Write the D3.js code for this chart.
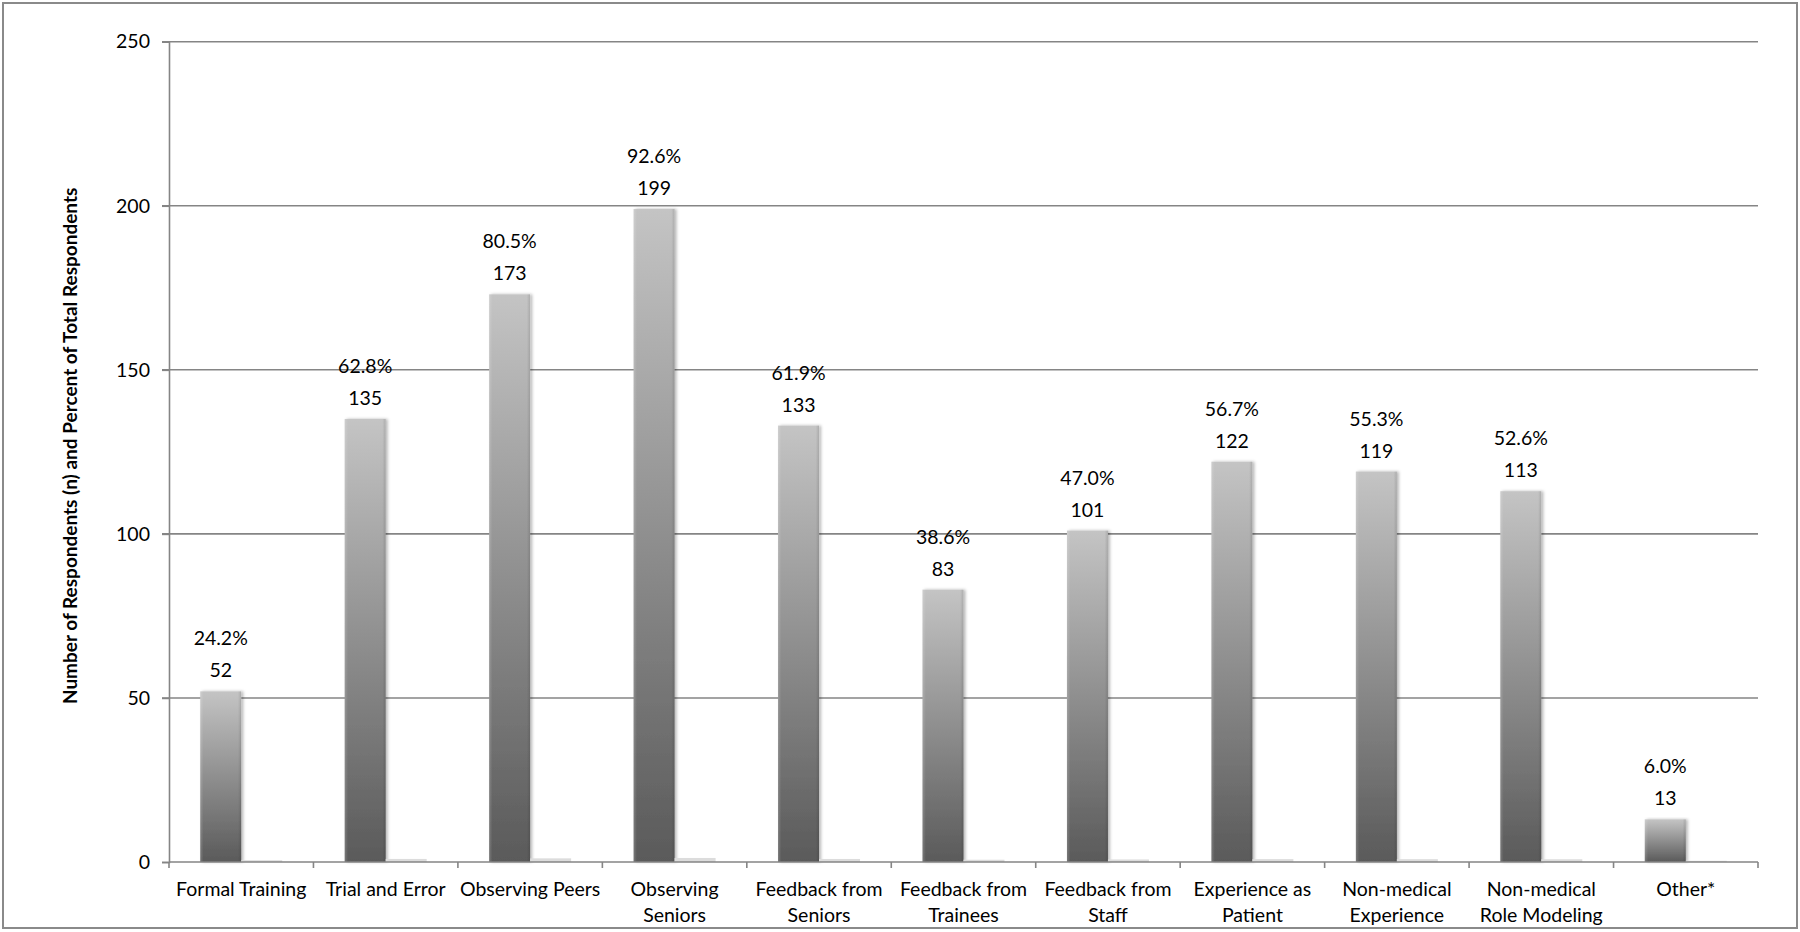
<!DOCTYPE html>
<html>
<head>
<meta charset="utf-8">
<script src="https://cdn.jsdelivr.net/npm/d3@7"></script>
<style>
  html, body { margin: 0; padding: 0; background: #fff; }
  svg { display: block; }
  text { font-family: Lato, "Noto Sans", sans-serif; fill: #000; }
</style>
</head>
<body>
<svg id="chart" width="1800" height="932"></svg>
<script>
// ---- data ----
const categories = [
  ["Formal Training"],
  ["Trial and Error"],
  ["Observing Peers"],
  ["Observing", "Seniors"],
  ["Feedback from", "Seniors"],
  ["Feedback from", "Trainees"],
  ["Feedback from", "Staff"],
  ["Experience as", "Patient"],
  ["Non-medical", "Experience"],
  ["Non-medical", "Role Modeling"],
  ["Other*"]
];
const counts = [52, 135, 173, 199, 133, 83, 101, 122, 119, 113, 13];
const percents = [24.2, 62.8, 80.5, 92.6, 61.9, 38.6, 47.0, 56.7, 55.3, 52.6, 6.0];
const yTicks = [0, 50, 100, 150, 200, 250];
const yTitle = "Number of Respondents (n) and Percent of Total Respondents";

// ---- layout ----
const W = 1800, H = 932;
const mLeft = 169, mRight = 1758, mTop = 41.7, mBottom = 862;
const FS = 19.5;
const svg = d3.select("#chart");

svg.append("rect").attr("x", 3).attr("y", 3).attr("width", W - 6).attr("height", H - 7)
  .attr("fill", "#fff").attr("stroke", "#8a8a8a").attr("stroke-width", 2);

const defs = svg.append("defs");
const grad = defs.append("linearGradient").attr("id", "barGrad")
  .attr("x1", 0).attr("y1", 0).attr("x2", 0).attr("y2", 1);
grad.append("stop").attr("offset", "0%").attr("stop-color", "#c4c4c4");
grad.append("stop").attr("offset", "100%").attr("stop-color", "#5a5a5a");
const hgrad = defs.append("linearGradient").attr("id", "edgeGrad")
  .attr("x1", 0).attr("y1", 0).attr("x2", 1).attr("y2", 0);
hgrad.append("stop").attr("offset", "0%").attr("stop-color", "#fff").attr("stop-opacity", 0.18);
hgrad.append("stop").attr("offset", "8%").attr("stop-color", "#fff").attr("stop-opacity", 0);
hgrad.append("stop").attr("offset", "92%").attr("stop-color", "#000").attr("stop-opacity", 0);
hgrad.append("stop").attr("offset", "100%").attr("stop-color", "#000").attr("stop-opacity", 0.12);
const shadow = defs.append("filter").attr("id", "shadow")
  .attr("x", "-20%").attr("y", "-5%").attr("width", "150%").attr("height", "110%");
shadow.append("feDropShadow").attr("dx", 2).attr("dy", 0).attr("stdDeviation", 1.6)
  .attr("flood-color", "#000").attr("flood-opacity", 0.28);

const keys = categories.map((c, i) => i);
const x = d3.scaleBand().domain(keys).range([mLeft, mRight]).padding(0);
const xs = d3.scaleBand().domain(["n", "pct"]).range([0, x.bandwidth()])
  .paddingInner(0).paddingOuter(0.762);
const y = d3.scaleLinear().domain([0, 250]).range([mBottom, mTop]);

// gridlines
svg.append("g").selectAll("line").data(yTicks.filter(t => t > 0)).join("line")
  .attr("x1", mLeft - 7).attr("x2", mRight)
  .attr("y1", d => y(d)).attr("y2", d => y(d))
  .attr("stroke", "#858585").attr("stroke-width", 1.6);

// y axis
const yAxis = svg.append("g").attr("transform", `translate(${mLeft},0)`)
  .call(d3.axisLeft(y).tickValues(yTicks).tickSize(7).tickPadding(12));
yAxis.select(".domain").attr("stroke", "#858585").attr("stroke-width", 1.6);
yAxis.selectAll(".tick line").attr("stroke", "#858585").attr("stroke-width", 1.6);
yAxis.selectAll(".tick text").attr("font-size", FS).attr("font-family", "Lato, sans-serif").attr("fill", "#000");

// bars (counts)
const g = svg.append("g");
g.selectAll("rect.n").data(counts).join("rect").attr("class", "n")
  .attr("x", (d, i) => x(i) + xs("n"))
  .attr("width", xs.bandwidth())
  .attr("y", d => y(d))
  .attr("height", d => y(0) - y(d))
  .attr("fill", "url(#barGrad)")
  .attr("filter", "url(#shadow)");
g.selectAll("rect.edge").data(counts).join("rect").attr("class", "edge")
  .attr("x", (d, i) => x(i) + xs("n"))
  .attr("width", xs.bandwidth())
  .attr("y", d => y(d))
  .attr("height", d => y(0) - y(d))
  .attr("fill", "url(#edgeGrad)");
// second series (percent as fraction) - tiny bars
g.selectAll("rect.p").data(percents).join("rect").attr("class", "p")
  .attr("x", (d, i) => x(i) + xs("pct"))
  .attr("width", xs.bandwidth())
  .attr("y", d => y(d / 100) - 1)
  .attr("height", d => y(0) - y(d / 100) + 1)
  .attr("fill", "#dcdcdc");

// x axis
svg.append("line").attr("x1", mLeft).attr("x2", mRight).attr("y1", y(0)).attr("y2", y(0))
  .attr("stroke", "#858585").attr("stroke-width", 1.6);
const tickXs = keys.map(k => x(k)).concat([mRight]);
svg.append("g").selectAll("line").data(tickXs).join("line")
  .attr("x1", d => d).attr("x2", d => d).attr("y1", y(0)).attr("y2", y(0) + 6)
  .attr("stroke", "#858585").attr("stroke-width", 1.6);

// category labels
const labs = svg.append("g").selectAll("text").data(categories).join("text")
  .attr("x", (d, i) => x(i) + x.bandwidth() / 2)
  .attr("y", 896)
  .attr("text-anchor", "middle").attr("font-size", FS);
labs.selectAll("tspan").data(d => d).join("tspan")
  .attr("x", function () { return this.parentNode.getAttribute("x"); })
  .attr("dy", (d, j) => j === 0 ? 0 : 26)
  .text(d => d);

// data labels
svg.append("g").selectAll("text").data(counts).join("text")
  .attr("x", (d, i) => x(i) + xs("n") + xs.bandwidth() / 2)
  .attr("y", d => y(d) - 14)
  .attr("text-anchor", "middle").attr("font-size", FS)
  .text(d => d);
svg.append("g").selectAll("text").data(percents).join("text")
  .attr("x", (d, i) => x(i) + xs("n") + xs.bandwidth() / 2)
  .attr("y", (d, i) => y(counts[i]) - 46)
  .attr("text-anchor", "middle").attr("font-size", FS)
  .text(d => d.toFixed(1) + "%");

// y title
svg.append("text")
  .attr("transform", `translate(77,${(mTop + mBottom) / 2 - 6}) rotate(-90)`)
  .attr("text-anchor", "middle").attr("font-size", 19).attr("font-weight", "bold")
  .text(yTitle);
</script>
</body>
</html>
